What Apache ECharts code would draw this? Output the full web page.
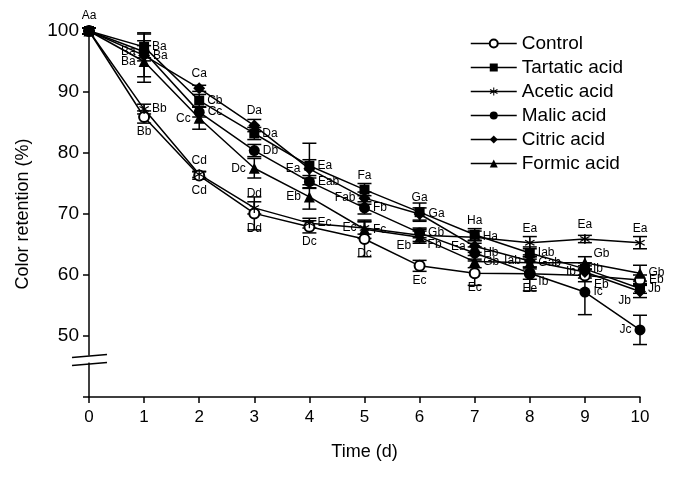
<!DOCTYPE html>
<html>
<head>
<meta charset="utf-8">
<script src="https://cdn.jsdelivr.net/npm/echarts@6/dist/echarts.min.js"></script>
<style>
html,body{margin:0;padding:0;background:#fff;}
#chart{width:677px;height:477px;}
</style>
</head>
<body>
<div id="chart"></div>
<script>
// ---- data ----
var days = [0,1,2,3,4,5,6,7,8,9,10];
var seriesNames = ['Control','Tartatic acid','Acetic acid','Malic acid','Citric acid','Formic acid'];
var yTicks = [50,60,70,80,90,100];

var controlVals  = [100, 85.9, 76.3, 70.1, 67.9, 65.9, 61.5, 60.3, 60.2, 59.9, 59.2];
var tartaricVals = [100, 97.4, 88.6, 83.2, 77.9, 74.0, 70.3, 66.6, 63.6, 61.0, 57.8];
var aceticVals   = [100, 87.2, 76.5, 71.0, 68.5, 67.7, 66.5, 66.2, 65.3, 65.9, 65.3];
var malicVals    = [100, 96.6, 86.7, 80.4, 75.3, 71.0, 66.9, 63.6, 60.3, 57.2, 51.0];
var citricVals   = [100, 96.0, 90.6, 84.5, 77.4, 72.6, 70.0, 64.7, 62.3, 60.5, 57.3];
var formicVals   = [100, 95.0, 85.7, 77.5, 72.8, 67.5, 66.2, 62.2, 62.0, 62.0, 60.3];

var controlErr  = [0.5, 1.0, 0.6, 2.7, 1.0, 2.9, 0.9, 2.0, 2.8, 1.0, 0.8];
var tartaricErr = [0.5, 2.3, 1.0, 1.0, 3.7, 1.0, 1.5, 1.0, 1.0, 1.0, 0.8];
var aceticErr   = [0.5, 0.8, 0.5, 1.0, 0.8, 1.0, 1.0, 1.0, 1.0, 0.6, 1.0];
var malicErr    = [0.5, 1.0, 0.8, 1.0, 1.0, 1.0, 0.8, 1.0, 1.0, 3.7, 2.4];
var citricErr   = [0.5, 3.5, 0.5, 1.0, 1.5, 1.0, 1.0, 1.0, 1.0, 1.0, 1.0];
var formicErr   = [0.5, 3.4, 1.8, 1.6, 2.0, 1.5, 1.0, 1.0, 1.0, 1.0, 1.3];

var controlTags  = ['Aa','Bb','Cd','Dd','Dc','Dc','Ec','Ec','Ee','Eb','Eb'];
var tartaricTags = ['','Ba','Cb','Da','Ea','Fa','Ga','Ha','Iab','Ib','Jb'];
var aceticTags   = ['','Bb','Cd','Dd','Ec','Ec','Fb','Ha','Ea','Ea','Ea'];
var malicTags    = ['','Ba','Cc','Db','Eab','Fb','Gb','Hb','Ib','Ic','Jc'];
var citricTags   = ['','Ba','Ca','Da','Ea','Fab','Ga','Ea','Iab','Ib','Jb'];
var formicTags   = ['','Ba','Cc','Dc','Eb','Fc','Eb','Gb','Gab','Gb','Gb'];

// ---- label placement (style) ----
var controlPos  = ['t','b','b','b','b','b','b','b','b','br','r'];
var tartaricPos = ['','r','r','r','r','t','t','t','r','r','r'];
var aceticPos   = ['','r','t','t','r','l','br','r','t','t','t'];
var malicPos    = ['','l','r','r','r','r','r','r','br','r','l'];
var citricPos   = ['','r','t','t','l','l','r','l','l','l','bl'];
var formicPos   = ['','l','l','l','l','r','bl','r','r','tr','r'];

var asterisk = 'path://M-1.2,-10L1.2,-10L1.2,10L-1.2,10Z' +
  'M8.06,-6.04L9.26,-3.96L-8.06,6.04L-9.26,3.96Z' +
  'M9.26,3.96L8.06,6.04L-9.26,-3.96L-8.06,-6.04Z';

var symbols = ['emptyCircle','rect','circle','circle','diamond','triangle'];
symbols[2] = asterisk;
var symSizes = [10, 10, 10, 11, 12, 11];

var allVals = [controlVals, tartaricVals, aceticVals, malicVals, citricVals, formicVals];
var allErr  = [controlErr, tartaricErr, aceticErr, malicErr, citricErr, formicErr];
var allTags = [controlTags, tartaricTags, aceticTags, malicTags, citricTags, formicTags];
var allPos  = [controlPos, tartaricPos, aceticPos, malicPos, citricPos, formicPos];

var FONT = 'Liberation Sans, Arial, sans-serif';

function labelFor(tag, p) {
  if (!tag) return {show:false};
  var base = {show:true, formatter: tag, color:'#000', fontFamily: FONT, fontSize: 12, distance: 3};
  switch (p) {
    case 't': base.position = 'top'; break;
    case 'b': base.position = 'bottom'; break;
    case 'l': base.position = 'left'; break;
    case 'r': base.position = 'right'; break;
    case 'br': base.position = 'right'; base.offset = [0, 9]; break;
    case 'bl': base.position = 'left'; base.offset = [0, 9]; break;
    case 'tr': base.position = 'right'; base.offset = [0, -9]; break;
  }
  return base;
}

var series = [];
// error bars
allVals.forEach(function (vals, si) {
  var data = days.map(function (d, i) { return [d, vals[i] - allErr[si][i], vals[i] + allErr[si][i]]; });
  series.push({
    type: 'custom',
    silent: true,
    z: 1,
    data: data,
    encode: {x: 0, y: [1, 2]},
    renderItem: function (params, api) {
      var x = api.value(0);
      var lo = api.coord([x, api.value(1)]);
      var hi = api.coord([x, api.value(2)]);
      var hw = 7;
      var st = {stroke: '#000', lineWidth: 1.5};
      return {
        type: 'group',
        children: [
          {type: 'line', shape: {x1: lo[0], y1: lo[1], x2: hi[0], y2: hi[1]}, style: st},
          {type: 'line', shape: {x1: lo[0]-hw, y1: lo[1], x2: lo[0]+hw, y2: lo[1]}, style: st},
          {type: 'line', shape: {x1: hi[0]-hw, y1: hi[1], x2: hi[0]+hw, y2: hi[1]}, style: st}
        ]
      };
    }
  });
});
// lines
allVals.forEach(function (vals, si) {
  series.push({
    name: seriesNames[si],
    type: 'line',
    z: 3,
    symbol: symbols[si],
    symbolSize: symSizes[si],
    showAllSymbol: true,
    lineStyle: {color: '#000', width: 1.5},
    itemStyle: {color: '#000', borderColor: '#000', borderWidth: si === 0 ? 1.3 : 0},
    data: days.map(function (d, i) {
      return {value: [d, vals[i]], label: labelFor(allTags[si][i], allPos[si][i])};
    })
  });
});

var chart = echarts.init(document.getElementById('chart'), null, {renderer: 'canvas'});
chart.setOption({
  animation: false,
  backgroundColor: '#fff',
  grid: {left: 89, right: 37, top: 31, bottom: 80},
  legend: {
    data: seriesNames,
    orient: 'vertical',
    left: 465,
    top: 29,
    itemWidth: 46,
    itemHeight: 10,
    itemGap: 5,
    textStyle: {fontFamily: FONT, fontSize: 19, color: '#000'},
    itemStyle: {color: '#000', borderColor: '#000'},
    lineStyle: {color: '#000', width: 1.5}
  },
  xAxis: {
    type: 'value',
    min: 0, max: 10, interval: 1,
    name: 'Time (d)',
    nameLocation: 'middle',
    nameGap: 46,
    nameTextStyle: {fontFamily: FONT, fontSize: 18, color: '#000'},
    axisLine: {lineStyle: {color: '#000', width: 1.5}},
    axisTick: {length: 6, lineStyle: {color: '#000', width: 1.5}},
    axisLabel: {fontFamily: FONT, fontSize: 17, color: '#000', margin: 12},
    splitLine: {show: false}
  },
  yAxis: {
    type: 'value',
    min: 40, max: 100, interval: 10,
    name: 'Color retention (%)',
    nameLocation: 'middle',
    nameGap: 57,
    nameTextStyle: {fontFamily: FONT, fontSize: 18, color: '#000'},
    axisLine: {lineStyle: {color: '#000', width: 1.5}},
    axisTick: {length: 6, lineStyle: {color: '#000', width: 1.5}},
    axisLabel: {
      fontFamily: FONT, fontSize: 19, color: '#000', margin: 10,
      formatter: function (v) { return yTicks.indexOf(v) >= 0 ? String(v) : ''; }
    },
    splitLine: {show: false}
  },
  series: series
});

// axis break marks
var bp = chart.convertToPixel({gridIndex: 0}, [0, 46.3]);
chart.setOption({
  graphic: [
    {type: 'rect', shape: {x: bp[0]-3, y: bp[1]-3, width: 6, height: 7}, style: {fill: '#fff'}, z: 100},
    {type: 'line', shape: {x1: bp[0]-17, y1: bp[1]-1, x2: bp[0]+18, y2: bp[1]-4}, style: {stroke: '#000', lineWidth: 1.5}, z: 101},
    {type: 'line', shape: {x1: bp[0]-17, y1: bp[1]+7, x2: bp[0]+18, y2: bp[1]+4}, style: {stroke: '#000', lineWidth: 1.5}, z: 101}
  ]
});
</script>
</body>
</html>
